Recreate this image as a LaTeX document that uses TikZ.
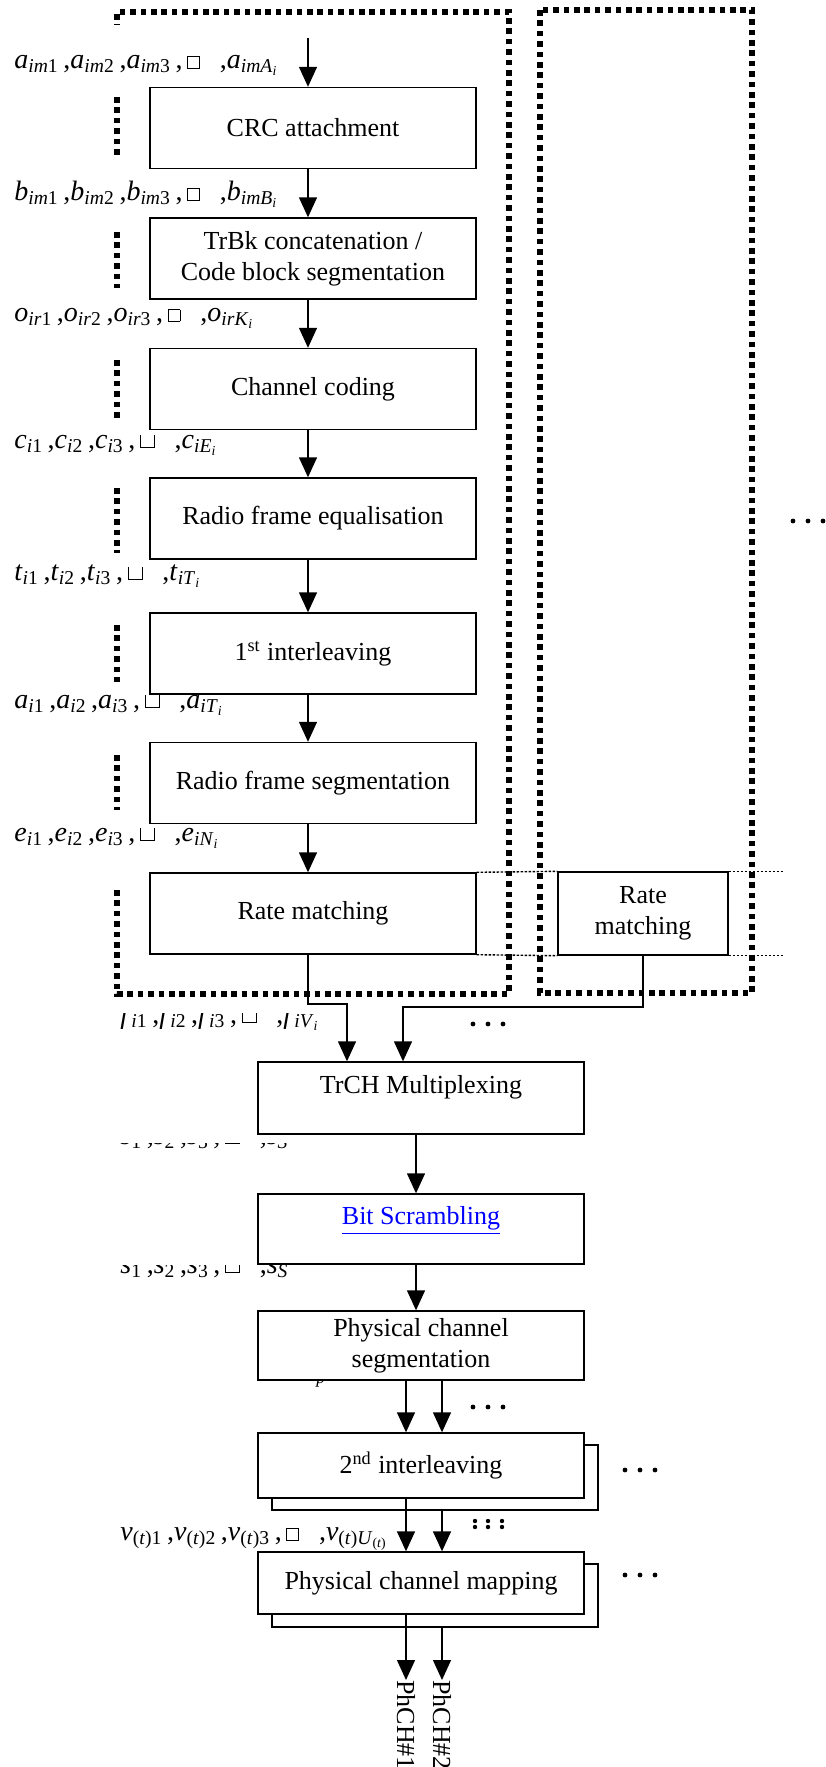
\documentclass[tikz,border=0pt]{standalone}
\usepackage{fontspec}
\setmainfont{Liberation Serif}
\usetikzlibrary{arrows.meta}

% ellipsis glyphs that came out as empty boxes
\newcommand{\gapbox}{{\setlength{\fboxsep}{0pt}\setlength{\fboxrule}{0.4pt}\fbox{\rule{0pt}{5.5pt}\hspace{5.5pt}}}}
\newcommand{\gapcup}{\rule{0.4pt}{6.5pt}\rule{6.5pt}{0.4pt}\rule{0.4pt}{6.5pt}}
\newcommand{\sbs}[1]{\textsubscript{#1}}
% x_{p1}, x_{p2}, x_{p3}, <gap>, x_{last}
\newcommand{\seqlabel}[4]{\textit{#1}\sbs{#21}\,,\textit{#1}\sbs{#22}\,,\textit{#1}\sbs{#23}\,,#3,\textit{#1}\sbs{#4}}
\newcommand{\rowdots}[2]{\fill (#1,#2) circle (1.2pt) (#1+15,#2) circle (1.2pt) (#1+30,#2) circle (1.2pt);}

\begin{document}
\begin{tikzpicture}[x=0.5pt,y=-0.5pt,
  txt/.style={font=\fontsize{13}{15.5}\selectfont},
  block/.style={txt,draw,line width=0.7pt,fill=white,align=center,inner sep=2pt,
    minimum width=163pt,minimum height=40.5pt},
  hightext/.style={text depth=13.5pt},
  flow/.style={line width=0.7pt,-{Triangle[length=10pt,width=9pt]}},
  chainframe/.style={line width=2.6pt,dash pattern=on 2.8pt off 2.4pt},
  rmguide/.style={line width=0.7pt,dash pattern=on 1.2pt off 0.8pt},
  lbl/.style={font=\fontsize{14}{16}\selectfont,anchor=base west,inner sep=0pt}]
\useasboundingbox (0,0) rectangle (825,1767);

% per-TrCH frames
\draw[chainframe] (117,890) -- (117,994) -- (509,994) -- (509,12) -- (117,12) -- (117,25);
\foreach \a/\b in {97/159,232/288,360/418,488/553,625/682,755/810}
  \draw[chainframe] (117,\a) -- (117,\b);
\draw[chainframe] (540,10) rectangle (752,993);

% coding chain of one TrCH
\node[block] (crc) at (313,128) {CRC attachment};
\node[block] (tbk) at (313,258.5) {TrBk concatenation /\\Code block segmentation};
\node[block] (cc) at (313,389) {Channel coding};
\node[block] (rfe) at (313,518.5) {Radio frame equalisation};
\node[block] (il1) at (313,653.5) {1\textsuperscript{st} interleaving};
\node[block] (rfs) at (313,783) {Radio frame segmentation};
\node[block] (rm) at (313,913.5) {Rate matching};
\node[block,minimum width=85pt,minimum height=41.5pt] (rm2) at (643,913.5) {Rate\\matching};
\draw[rmguide] (rm.north east) -- (rm2.north west);
\draw[rmguide] (rm.south east) -- (rm2.south west);
\draw[rmguide] (rm2.north east) -- ++(27pt,0);
\draw[rmguide] (rm2.south east) -- ++(27pt,0);

% common part
\node[block,hightext,minimum height=36pt] (trch) at (421,1098) {TrCH Multiplexing};
\node[block,hightext,minimum height=35pt] (bit) at (421,1229) {\textcolor{blue}{\underline{Bit Scrambling}}};
\node[block,minimum height=34.5pt] (pcs) at (421,1345.5) {Physical channel\\segmentation};
\node[block,minimum height=32.5pt] (il2back) at (435,1477.5) {};
\node[block,minimum height=32.5pt] (il2) at (421,1465.5) {2\textsuperscript{nd} interleaving};
\node[block,minimum height=31.5pt] (pcmback) at (435,1595.5) {};
\node[block,minimum height=31pt] (pcm) at (421,1583) {Physical channel mapping};
\node[txt,rotate=-90,anchor=west,inner sep=0pt] (ph1) at (406,1680) {PhCH\#1};
\node[txt,rotate=-90,anchor=west,inner sep=0pt] (ph2) at (442,1680) {PhCH\#2};

% arrows
\coordinate (in) at (308,38);
\draw[flow] (in) -- (in |- crc.north);
\foreach \a/\b in {crc/tbk,tbk/cc,cc/rfe,rfe/il1,il1/rfs,rfs/rm}
  \draw[flow] (\a.south -| in) -- (\b.north -| in);
\coordinate (j1) at (347,1004);
\coordinate (j2) at (403,1007);
\draw[flow] (rm.south -| in) |- (j1) -- (j1 |- trch.north);
\draw[flow] (rm2.south) |- (j2) -- (j2 |- trch.north);
\draw[flow] ([xshift=-2.5pt]trch.south) -- ([xshift=-2.5pt]bit.north);
\draw[flow] ([xshift=-2.5pt]bit.south) -- ([xshift=-2.5pt]pcs.north);
\draw[flow] (ph1.west |- pcs.south) -- (ph1.west |- il2.north);
\draw[flow] (ph2.west |- pcs.south) -- (ph2.west |- il2.north);
\draw[flow] (ph1.west |- il2.south) -- (ph1.west |- pcm.north);
\draw[flow] (ph2.west |- il2back.south) -- (ph2.west |- pcm.north);
\draw[flow] (ph1.west |- pcm.south) -- (ph1.west);
\draw[flow] (ph2.west |- pcmback.south) -- (ph2.west);

% bit sequences
\node[lbl] (la) at (14,68) {\seqlabel{a}{\textit{im}}{\,\gapbox\hspace{10pt}}{\textit{imA}\sbs{\textit{i}}}};
\node[lbl] (lb) at (14,200) {\seqlabel{b}{\textit{im}}{\,\gapbox\hspace{10pt}}{\textit{imB}\sbs{\textit{i}}}};
\node[lbl] (lo) at (14,321) {\seqlabel{o}{\textit{ir}}{\,\gapbox\hspace{10pt}}{\textit{irK}\sbs{\textit{i}}}};
\node[lbl] (lc) at (14,448) {\seqlabel{c}{\textit{i}}{\,\gapcup\hspace{10pt}}{\textit{iE}\sbs{\textit{i}}}};
\node[lbl] (lt) at (14,580) {\seqlabel{t}{\textit{i}}{\,\gapcup\hspace{10pt}}{\textit{iT}\sbs{\textit{i}}}};
\node[lbl] (lai) at (14,708) {\seqlabel{a}{\textit{i}}{\,\gapcup\hspace{10pt}}{\textit{iT}\sbs{\textit{i}}}};
\node[lbl] (le) at (14,841) {\seqlabel{e}{\textit{i}}{\,\gapcup\hspace{10pt}}{\textit{iN}\sbs{\textit{i}}}};
\begin{scope}
  \clip (100,1013) rectangle (400,1040);
  \node[lbl] (lf) at (120,1023) {\seqlabel{f}{\textit{i}}{\,\gapcup\hspace{10pt}}{\textit{iV}\sbs{\textit{i}}}};
\end{scope}
\begin{scope}
  \clip (100,1143) rectangle (300,1152);
  \node[lbl] (lh) at (120,1144) {\seqlabel{s}{}{\,\gapcup\hspace{10pt}}{\textit{S}}};
\end{scope}
\begin{scope}
  \clip (100,1265) rectangle (300,1290);
  \node[lbl] (ls) at (120,1273) {\seqlabel{s}{}{\,\gapcup\hspace{10pt}}{\textit{S}}};
\end{scope}
\begin{scope}
  \clip (300,1381) rectangle (340,1395);
  \node[lbl,font=\fontsize{8.75}{10}\selectfont] (lp) at (316,1383) {\textit{p}};
\end{scope}
\node[lbl] (lv) at (120,1540) {\seqlabel{v}{(\textit{t})}{\,\gapbox\hspace{10pt}}{(\textit{t})\textit{U}\sbs{(\textit{t})}}};

% more TrCHs / PhCHs
\rowdots{793}{521}
\rowdots{473}{1024}
\rowdots{473}{1407}
\rowdots{625}{1470}
\rowdots{625}{1575}
\foreach \d in {0,13,27}
  \fill (475+\d,1521) circle (1.1pt) (475+\d,1527) circle (1.1pt);
\end{tikzpicture}
\end{document}
